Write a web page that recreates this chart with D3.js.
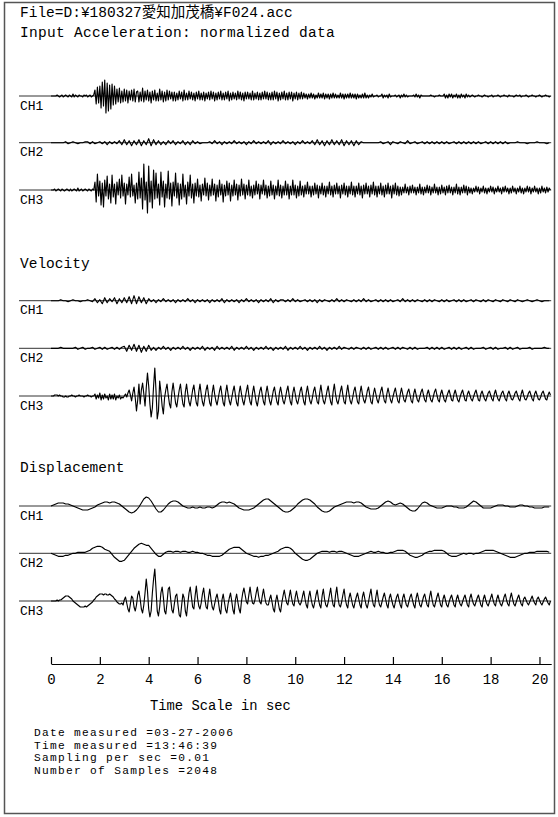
<!DOCTYPE html>
<html><head><meta charset="utf-8">
<script src="https://cdn.jsdelivr.net/npm/d3@7"></script>
<style>
html,body{margin:0;padding:0;background:#fff;}
svg text{font-family:"Liberation Mono","Noto Sans CJK JP",monospace;fill:#000;}
</style></head><body>
<svg id="chart" width="558" height="817"></svg>
<script>
// ---------- texts ----------
const fileTitle = "File=D:¥180327愛知加茂橋¥F024.acc";
const sectionTitles = ["Input Acceleration: normalized data", "Velocity", "Displacement"];
const channelNames = ["CH1", "CH2", "CH3"];
const timeTicks = [0, 2, 4, 6, 8, 10, 12, 14, 16, 18, 20];
const axisTitle = "Time Scale in sec";
const infoLines = ["Date measured =03-27-2006", "Time measured =13:46:39", "Sampling per sec =0.01", "Number of Samples =2048"];
const totalSec = 20.48;   // 2048 samples * 0.01 s
const stepFine = 0.05;    // s between values of the fine arrays
const stepCoarse = 0.1;   // s between values of the coarse arrays

// ---------- waveform values (normalized units) ----------
const accCH1 = [0,0,0,0,
0,1,0,-1,0,1,-1,0,1,0,-1,1,0,-1,2,-1,1,0,-1,1,0,0,-1,1,0,1,-1,0,1,-1,0,1,
6,-8,9,-7,10,
-12,14,-10,16,-17,13,-15,11,-13,12,-9,10,
-8,7,-6,8,-7,5,-6,7,-5,6,-7,5,-4,6,-5,7,-6,4,
5,-6,4,-5,8,-6,5,-4,6,-5,4,-7,5,-4,6,-5,3,-5,7,-4,5,-6,4,-5,6,-4,5,-3,4,-5,
4,-5,3,-4,5,-3,4,-5,6,-4,3,-4,5,-3,4,-4,3,-5,4,-3,5,-4,3,-4,4,-5,3,-3,4,-4,5,-3,4,-5,3,-4,4,-3,5,-4,
3,-4,4,-3,5,-5,3,-4,4,-3,3,-4,5,-3,4,-4,3,-5,4,-3,4,-3,3,-4,5,-4,3,-3,4,-4,3,-4,4,-3,5,-3,4,-4,3,-4,
4,-4,5,-3,4,-5,3,-4,4,-3,5,-4,3,-4,4,-3,4,-5,3,-3,4,-4,3,-3,4,-3,
3,-2,2,-3,2,-2,3,-2,2,-3,1,-2,3,-2,2,-2,3,-3,2,-2,2,-3,2,-2,3,-2,2,-2,1,-2,3,-2,2,-3,2,-2,2,-2,3,-2,2,-2,2,-3,2,-2,1,-2,2,-2,3,-2,
1,-2,1,-1,2,-1,0,0,1,-1,0,0,2,-2,1,-1,1,-2,2,-1,0,0,0,1,-1,0,1,-2,1,-1,2,-1,1,-1,0,0,0,0,1,-1,2,-1,1,-2,1,0,0,0,0,
0,0,0,1,0,0,-1,0,0,0,1,0,0,0,
2,-2,1,-2,2,-1,2,-2,1,-1,2,-2,1,-2,2,-1,1,-2,2,-1,1,-1,
0,1,0,-1,0,0,1,0,0,-1,0,1,0,0,-1,0,0,1,-1,0,0,0,1,0,-1,0,0,1,0,0,-1,1,0,0,0,-1,0,1,0,0,1,-1,0,0,0,1,0,-1,0,0,1,0,0,-1,0,0,1,0,-1,0,0,1,0,0,-1,0];

const accCH2 = [0,0,0,0,0,
0,1,-1,0,1,0,-1,0,0,1,
1,-1,1,-1,0,1,-1,1,-2,1,-1,1,-1,
2,-2,3,-2,2,-3,2,-2,3,-3,2,-2,4,-3,3,-2,
2,-2,1,-2,2,-1,2,-2,1,-1,2,-2,1,-2,2,-1,1,-1,
0,0,0,
1,-1,2,-1,1,-2,1,-1,1,-1,2,-1,1,-1,1,-2,1,-1,2,-1,1,-1,1,-1,2,-2,1,-1,1,-1,2,-1,1,-1,1,-2,1,-1,2,-1,1,-1,
2,-2,3,-2,2,-3,2,-2,3,-2,2,-2,3,-3,2,-2,2,-3,2,-2,1,
0,0,0,0,0,0,0,
1,-1,0,1,-2,1,0,-1,1,0,-1,2,-1,0,1,-1,0,1,-1,
1,-1,1,-1,1,-1,1,-1,1,-1,0,1,-1,1,-1,1,-1,1,-1,1,-1,1,-1,0,1,-1,1,-1,1,-1,1,-1,1,-1,
0,0,0,1,0,0,0,-1,0,0,0,1,0,0,0,-1,0];

const accCH3 = [0,0,
0,1,-1,0,1,0,-1,1,0,-1,0,1,0,-1,1,-1,0,1,0,-1,2,-1,0,1,-1,0,1,0,-1,1,0,-1,1,0,
8,-12,16,-6,9,-15,7,-17,10,-6,14,-9,6,-13,15,
-7,6,-14,8,-5,11,-8,15,-6,7,-14,6,-5,13,-7,16,-6,5,-13,7,
-9,18,-8,12,-19,26,-10,8,-23,24,-12,9,-18,20,-9,17,
-8,6,-15,18,-7,9,-17,6,-8,19,-9,7,-16,8,-6,17,-8,7,-15,6,-9,16,-7,5,-14,8,-6,15,-8,6,-13,7,
-6,11,-7,5,-11,6,-5,12,-6,7,-10,5,-6,11,-5,6,-11,5,-7,10,-5,6,-12,5,-6,9,-5,7,-11,5,-6,10,-5,6,-10,5,-6,11,-5,
6,-9,5,-5,10,-6,4,-8,5,-5,9,-4,6,-9,5,-4,10,-5,5,-8,4,-6,9,-5,5,-9,4,-5,10,-6,5,-8,4,-5,9,-5,6,-9,4,-5,10,-5,5,-8,4,-6,9,-5,
4,-7,5,-4,8,-4,4,-7,4,-5,7,-4,5,-8,4,-4,7,-5,4,-7,4,-4,8,-5,4,-7,5,-4,7,-4,4,-8,5,-4,7,-5,4,-7,4,-4,
8,-5,4,-7,4,-4,7,-5,4,-8,5,-4,7,-4,4,-7,5,-4,8,-5,4,-7,4,-4,7,-5,4,-7,5,-4,7,-4,4,-8,5,-4,7,-5,4,-6,
3,-5,3,-3,6,-3,3,-5,4,-3,5,-3,3,-5,3,-3,6,-4,3,-5,3,-3,5,-3,4,-5,3,-3,6,-3,3,-5,3,-4,5,-3,3,-5,4,-3,
5,-3,3,-5,3,-3,6,-4,3,-5,3,-3,5,-3,4,-5,3,-3,
2,-4,2,-2,4,-2,3,-4,2,-2,4,-3,2,-4,2,-2,4,-2,3,-4,2,-2,4,-2,2,-4,3,-2,4,-2,2,-4,2,-3,4,-2,2,-4,2,-2,
4,-3,2,-4,2,-2,4,-2,3,-4,2,-2,4,-2,2,-4,2,-3,4,-2,2,-3,3,-2,2,0];

const velCH1 = [0,0,0,
0,1,0,0,-1,0,1,0,0,-1,0,0,1,0,-1,
2,-2,1,-3,3,-2,2,-1,3,-3,2,-2,3,-2,4,-3,5,-3,4,-2,3,-3,2,
-1,1,-2,1,-1,2,-1,1,-1,1,-2,1,-1,1,-1,2,-1,1,-2,1,-1,1,-1,1,-2,1,-1,1,-1,2,-2,1,-1,1,-1,1,-2,1,-1,2,-1,1,-1,1,-2,1,-1,1,-1,2,-2,1,-1,1,
1,-1,1,-1,2,-1,1,-1,0,1,-1,1,-1,1,-2,1,-1,1,0,-1,1,-1,2,-1,1,-1,1,0,-1,1,-1,1,-1,2,-1,1,-1,0,1,-1,
1,-1,1,-1,1,-1,0,1,-1,2,-1,1,-1,1,-1,1,0,-1,1,-1,1,-1,1,0,-1,1,-1,1,-1,0,1,-1,1,-1,1,-1,0,1,-1,1,
0,-1,1,-1,1,0,-1,1,0,-1,1,0,-1,1,0,-1,1,0,-1,0,1,0,-1,0,1,0,-1,0,0,0];

const velCH2 = [0,0,0,0,1,0,0,0,0,0,
1,-1,0,1,-1,0,0,1,-1,0,1,-1,1,-1,0,1,-1,1,-1,1,
2,-3,3,-2,4,-3,3,-4,2,-3,3,-2,
1,-2,1,-1,2,-1,1,-2,1,-1,1,-1,2,-1,1,-2,1,-1,1,-1,2,-2,1,-1,1,-2,2,-1,1,-1,1,-1,2,-2,1,-1,1,-1,2,-1,
1,-2,1,-1,1,-1,2,-1,1,-2,1,-1,1,-1,2,-2,1,-1,1,-1,2,-1,1,-2,1,-1,1,-1,2,-1,1,-2,1,-1,1,-1,2,-1,1,
0,-1,1,-1,1,0,-1,1,-1,1,-1,0,1,-1,1,-1,1,-1,0,1,-1,1,-1,1,0,-1,1,-1,1,-1,0,0,0,1,-1,1,-1,1,-1,1,
-1,0,1,-1,1,-1,1,-1,0,1,-1,1,-1,0,0,0,1,-1,0,1,-1,1,-1,0,0,1,-1,1,-1,0,1,-1,0,0,0,1,-1,0,0,0,
0,1,0,0];

const velCH3 = [0,0,
0,1,1,1,0,1,0,0,-1,-1,0,-1,-1,0,0,1,0,0,-1,0,0,1,0,0,0,-1,0,0,1,0,0,-1,0,0,
2,-3,1,-2,3,-4,1,-3,2,-2,0,-4,2,-3,1,-3,2,-4,0,-2,1,-3,-1,-2,
0,2,-1,3,6,1,-5,3,9,-2,-15,-4,12,-8,6,13,2,-10,8,23,10,-8,-21,-12,10,28,5,-23,-15,15,4,-10,-18,
-2,6,12,1,-8,-12, 4,13,3,-7,-11, -2,6,12,1,-8,-11, 4,12,2,-6,-10, -2,6,11,1,-7,-10,
4,12,2,-6,-10, -2,6,11,1,-7,-10, 3,11,2,-5,-9, -2,5,10,1,-7,-10, 3,11,2,-5,-9,
-2,5,10,1,-7,-10, 3,10,2,-5,-9, -2,5,11,1,-6,-9, 3,10,2,-6,-10, -2,5,9,1,-6,-9,
3,10,2,-5,-9, -2,5,9,1,-6,-9, 3,9,2,-5,-8, -2,5,10,1,-6,-9, 3,9,2,-5,-8,
-2,5,9,1,-6,-9, 3,10,2,-5,-8, -2,5,9,1,-6,-8, 3,11,2,-5,-8, -2,5,10,1,-6,-9,
4,12,2,-5,-8, -2,5,10,1,-6,-8, 3,11,2,-5,-8, -2,5,9,1,-6,-8, 3,10,2,-4,-7,
-2,5,9,1,-6,-8, 2,8,2,-4,-7, -1,5,9,1,-5,-7, 2,8,2,-4,-7, -1,4,8,1,-5,-7,
2,8,2,-4,-6, -1,4,7,1,-5,-7, 2,7,1,-4,-6, -1,4,7,1,-4,-6, 2,6,1,-4,-6,
-1,4,7,1,-4,-6, 2,6,1,-4,-6, -1,3,6,1,-4,-5, 2,6,1,-4,-6, -1,3,6,1,-4,-5,
2,5,1,-3,-5, -1,3,6,1,-4,-5, 2,5,1,-3,-5, -1,3,5,1,-3,-5, 2,6,1,-3,-5,
-1,3,5,1,-3,-5, 2,5,1,-3,-4, -1,3,5,1,-3,-5, 2,6,1,-3,-4, -1,3,5,1,-3,-5,
2,5,1,-3,-4, -1,3,5,1,-3,-4, 1,4,1];

const dispCH1 = [0,1,2,3,3,3,2,2,1,0,
-1,-2,-3,-4,-4,-4,-3,-2,-1,1,
2,3,4,4,3,4,4,3,2,0,
-2,-4,-6,-7,-6,-4,-1,3,7,9,
8,5,1,-3,-6,-6,-4,-1,2,4,
5,5,4,2,0,-1,-2,-2,-1,-2,
-2,-1,-2,-2,-1,-1,-2,-1,1,3,
4,4,3,4,3,2,0,-2,-3,-4,
-4,-4,-3,-2,0,2,4,6,7,7,
5,3,1,-1,-3,-5,-6,-6,-5,-3,
-1,2,4,6,7,7,6,4,2,-1,
-3,-5,-6,-6,-5,-3,-1,0,1,2,
3,4,4,4,3,4,4,3,1,-1,
-2,-3,-3,-3,-2,0,2,4,5,4,
2,1,2,3,2,0,-2,-4,-5,-5,
-3,0,3,4,3,1,0,-1,-2,-2,
-2,-1,0,0,0,-1,-1,-2,-2,-2,
-1,1,3,5,4,2,0,-2,-2,-2,
-2,-1,0,1,1,1,0,0,-1,-1,
-1,0,1,1,0,0,-1,-1,-2,-2,
-2,-2,-1,-1,-1];

const dispCH2 = [0,-1,-2,-3,-3,-3,-2,-2,-1,0,
0,1,1,1,1,2,3,5,6,7,
7,6,4,3,2,-1,-4,-6,-8,-8,
-7,-4,-1,2,5,7,9,10,9,8,
8,5,2,-1,-3,-3,-1,1,2,2,
1,2,2,1,2,2,1,1,2,1,
1,0,0,-1,-2,-2,-3,-3,-3,-3,
-2,0,2,4,5,6,6,6,4,2,
0,-1,-2,-3,-3,-4,-3,-3,-2,-2,
-1,0,1,2,4,5,6,6,5,3,
0,-2,-4,-6,-7,-7,-6,-4,-2,0,
1,2,2,2,1,2,2,1,2,2,
1,0,-1,-2,-3,-3,-3,-2,-1,0,
1,2,1,1,2,1,1,0,0,1,
1,2,3,3,3,2,0,-2,-3,-4,
-4,-3,-2,0,1,2,2,3,3,3,
3,2,0,-2,-3,-3,-3,-2,-1,0,
-1,0,0,-1,0,0,1,2,3,3,
3,3,2,1,0,-1,-2,-3,-4,-4,
-4,-3,-2,-1,0,0,1,1,1,2,
2,2,2,2,1];

const dispCH3 = [0,0,0,0,
0,1,0,1,1,2,
3,4,5,5,5,4,3,2,0,-1,
-2,-3,-4,-5,-6,-6,-6,-6,-5,-6,-5,-4,-3,-2,-1,1,
2,4,5,6,7,7,7,6,7,7,6,6,7,6,5,4,2,1,
-1,-2,-3,-3,-2,
-4,1,4,-2,-8,-11,-3,5,3,-6,-10,-4,6,10,2,-8,-12,-4,8,
22,10,-8,-16,-10,8,22,32,12,-10,-15,-6,8,14,4,-10,-13,-2,12,14,2,-9,-12,
-3,5,7,-4,-14,-16,-4,7,3,-10,-15,
-3,8,14,4,-6,-8, 5,15,3,-5,-8, -2,7,13,2,-6,-8, 4,12,2,-6,-9,
-3,3,7,0,-9,-13, 1,7,-1,-9,-12, -3,3,8,0,-9,-13, 1,7,-1,-8,-12,
0,8,13,6,-1,-3, 6,14,5,-2,-3, 1,8,14,5,-1,-3, 5,12,4,-2,-4,
-4,2,6,-1,-8,-11, 0,6,-1,-8,-11,
-2,5,11,4,-2,-4, 4,11,3,-3,-5, 4,10,3,-2,-4,
-1,5,10,2,-4,-7, 4,10,2,-4,-7, -1,6,11,2,-4,-7, 5,12,2,-4,-6, -1,6,13,3,-4,-6,
6,14,3,-4,-6, -1,6,12,2,-4,-7, 3,8,2,-4,-7, -1,4,8,2,-4,-7, 4,9,2,-4,-7,
-1,6,12,2,-4,-6, 4,11,2,-4,-6, -1,4,8,2,-4,-7, 3,7,1,-4,-7, -1,4,7,1,-4,-7,
3,7,1,-4,-6, -1,4,7,1,-4,-7, 3,8,2,-4,-6, -1,4,7,1,-4,-6, 4,10,2,-4,-6,
-1,4,8,2,-4,-6, 2,6,1,-4,-6, -1,3,6,1,-4,-6, 2,6,1,-3,-5, -1,3,6,1,-4,-6,
3,7,1,-3,-5, -1,3,6,1,-4,-6, 2,6,1,-3,-5, -1,3,7,1,-3,-5, 2,6,1,-3,-5,
-1,4,7,1,-3,-5, 3,8,2,-3,-5, -1,3,6,1,-3,-5, 2,4,1,-2,-4, -1,2,5,1,-2,-4,
2,4,1,-2,-4, -1,2,4,1,-2,-4, 0];

// ---------- layout ----------
const svg = d3.select("#chart");
const x = d3.scaleLinear().domain([0, totalSec]).range([51, 551.2]);
const baseY = [[96, 142.7, 190], [300.7, 348.3, 396], [506, 553.3, 601]];
const titleBaseY = [37, 268, 472];

const traces = [
  {g: 0, c: 0, step: stepFine,   v: accCH1},
  {g: 0, c: 1, step: stepCoarse, v: accCH2},
  {g: 0, c: 2, step: stepFine,   v: accCH3},
  {g: 1, c: 0, step: stepCoarse, v: velCH1},
  {g: 1, c: 1, step: stepCoarse, v: velCH2},
  {g: 1, c: 2, step: stepFine,   v: velCH3},
  {g: 2, c: 0, step: stepCoarse, v: dispCH1},
  {g: 2, c: 1, step: stepCoarse, v: dispCH2},
  {g: 2, c: 2, step: stepFine,   v: dispCH3}
];

// frame
svg.append("rect").attr("x", 4.5).attr("y", 2.5).attr("width", 550).attr("height", 811)
  .attr("fill", "none").attr("stroke", "#555").attr("stroke-width", 1.5);

// header texts
svg.append("text").attr("x", 20).attr("y", 17).attr("font-size", 14.5).text(fileTitle);
sectionTitles.forEach((s, k) => {
  svg.append("text").attr("x", 20).attr("y", titleBaseY[k]).attr("font-size", 14.5)
    .attr("letter-spacing", k === 0 ? 0.3 : 0).text(s);
});

// traces
traces.forEach(tr => {
  const b = baseY[tr.g][tr.c];
  const y = d3.scaleLinear().domain([-10, 10]).range([b + 10, b - 10]);
  svg.append("line").attr("x1", 19).attr("x2", x(totalSec)).attr("y1", b).attr("y2", b)
    .attr("stroke", "#333").attr("stroke-width", 1);
  svg.append("text").attr("x", 20).attr("y", b + 13.5).attr("font-size", 13).text(channelNames[tr.c]);
  const line = d3.line().x((d, i) => x(i * tr.step)).y(d => y(d));
  svg.append("path").datum(tr.v).attr("d", line).attr("fill", "none")
    .attr("stroke", "#000").attr("stroke-width", 1.15).attr("stroke-linejoin", "round");
});

// time axis
const axisY = 664;
const axis = d3.axisBottom(x).tickValues(timeTicks).tickSizeInner(-7).tickSizeOuter(0)
  .tickPadding(10).tickFormat(d3.format("d"));
const gA = svg.append("g").attr("transform", `translate(0,${axisY})`).call(axis);
gA.attr("font-family", null).attr("font-size", null);
gA.selectAll("path,line").attr("stroke", "#000").attr("stroke-width", 1.2);
gA.selectAll("text").attr("font-size", 14);

svg.append("text").attr("x", 150).attr("y", 710).attr("font-size", 13.8).text(axisTitle);
infoLines.forEach((s, k) => {
  svg.append("text").attr("x", 34).attr("y", 736 + k * 12.7).attr("font-size", 11.2)
    .attr("letter-spacing", 1.3).text(s);
});
</script>
</body></html>
